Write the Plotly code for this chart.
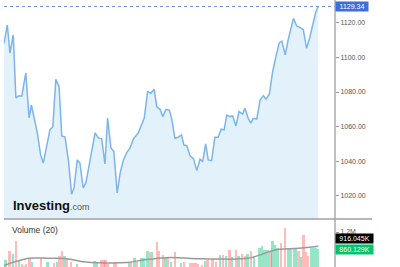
import plotly.graph_objects as go

# ---------------- data ----------------
session = [0, 1.0, 1.8, 2.8, 3.6, 4.3, 5.4, 6.6, 7.6, 8.3,
           10.1, 11.1, 11.9, 12.9, 13.9, 14.8, 15.7, 16.7, 17.5, 18.5,
           19.5, 20.5, 21.2, 22.2, 23.0, 24.0, 24.8, 26.1, 27.6, 28.6,
           29.6, 30.6, 31.4, 32.4, 33.3, 34.3, 35.2, 36.2, 37.2, 38.2,
           39.2, 40.7, 42.5, 43.5, 44.5, 45.5, 46.3, 47.3, 48.1, 49.1,
           50.1, 50.8, 51.8, 52.8, 53.8, 54.5, 55.4, 56.4, 57.4, 58.4,
           59.4, 60.2, 61.1, 61.9, 62.9, 63.9, 64.9, 65.8, 66.7, 67.5,
           68.5, 69.3, 70.3, 71.2, 72.3, 73.0, 74.0, 74.8, 75.5, 76.6,
           77.6, 78.6, 79.4, 80.4, 81.4, 82.4, 83.4, 84.2, 85.2, 86.2,
           87.7, 88.7, 89.7, 90.7, 91.7, 92.7, 93.7, 94.5, 95.2]
price = [1108, 1118.7, 1102.5, 1113, 1076.5, 1077.7, 1077.7, 1091, 1065, 1072.5,
         1056.4, 1043.7, 1039, 1048.5, 1058, 1060, 1087.3, 1083, 1054.6, 1054,
         1040.8, 1021, 1024.6, 1040.8, 1039, 1024.6, 1027.5, 1040.8, 1056.4, 1053.5,
         1053, 1038.5, 1065, 1047.7, 1045.6, 1021.7, 1033.3, 1040.8, 1045, 1047.7,
         1052.9, 1056.4, 1065, 1080.2, 1079.3, 1081.6, 1071.5, 1070, 1065.8, 1070,
         1069.6, 1064.8, 1053.3, 1053.9, 1055.2, 1049.4, 1049, 1043, 1041.7, 1034.6,
         1041.2, 1039.8, 1050, 1040.8, 1040.4, 1053.9, 1053.9, 1058.5, 1058.1, 1066.7,
         1065.8, 1066.2, 1060.4, 1068.7, 1067.3, 1070.6, 1064.8, 1062, 1064.8, 1064.4,
         1075.4, 1077.9, 1075.8, 1078.7, 1091.7, 1100.4, 1108.5, 1109.4, 1101.4, 1111,
         1122.5, 1118.1, 1117.3, 1115.8, 1105.2, 1111.9, 1119.6, 1126.3, 1129.34]

vol_session = [0.5, 1.7, 2.8, 3.7, 4.5, 5.4, 6.0, 6.6, 7.7, 8.4,
               11.3, 13.2, 15.2, 16.0, 16.8, 17.6, 18.3, 19.0, 20.3, 22.1,
               27.4, 28.2, 29.4, 30.1, 30.7, 31.6, 33.4, 34.0, 37.8, 38.5,
               39.5, 40.3, 41.5, 42.3, 43.5, 44.2, 44.8, 46.3, 47.0, 48.1,
               48.9, 49.6, 50.6, 51.8, 53.6, 54.5, 56.5, 57.3, 58.0, 58.7,
               60.0, 60.9, 61.7, 63.2, 64.2, 65.5, 66.3, 67.2, 68.3, 69.0,
               70.3, 71.1, 72.1, 73.0, 73.8, 74.8, 75.7, 77.4, 78.1, 78.9,
               79.9, 80.7, 81.4, 82.1, 82.9, 83.9, 85.2, 86.0, 86.8, 87.8,
               88.5, 89.2, 90.0, 90.8, 91.5, 92.2, 93.0, 93.8, 94.6, 95.2]
volume_k = [640, 820, 753, 1020, 620, 553, 527, 553, 673, 593,
            687, 593, 580, 593, 727, 820, 727, 673, 607, 553,
            620, 593, 640, 640, 640, 560, 593, 593, 607, 593,
            673, 607, 673, 673, 820, 807, 807, 1007, 820, 740,
            687, 707, 607, 807, 573, 593, 573, 573, 573, 553,
            540, 620, 640, 660, 607, 740, 740, 727, 840, 707,
            840, 727, 753, 727, 753, 820, 727, 873, 927, 840,
            840, 807, 1020, 940, 873, 973, 1287, 887, 887, 887,
            887, 820, 707, 1140, 807, 727, 873, 887, 873, 860]
vol_up = ["g", "r", "g", "r", "g", "r", "g", "r", "r", "g",
          "r", "g", "r", "g", "r", "r", "g", "r", "r", "g",
          "g", "g", "r", "r", "r", "r", "r", "r", "g", "r",
          "g", "r", "g", "g", "g", "r", "g", "r", "r", "r",
          "g", "r", "g", "r", "g", "r", "r", "r", "r", "r",
          "r", "g", "r", "r", "r", "g", "r", "g", "r", "g",
          "r", "g", "r", "r", "g", "r", "g", "g", "g", "g",
          "g", "r", "g", "g", "g", "r", "r", "g", "g", "g",
          "g", "r", "g", "r", "r", "r", "g", "g", "g", "g"]

ma_session = [0, 7.4, 13.9, 19.0, 24.0, 29.0, 37.2, 42.2, 49.3, 58.9, 63.9, 74.0, 78.1, 82.1, 89.2, 95.2]
ma_k = [527, 673, 673, 665, 607, 585, 590, 640, 687, 667, 660, 673, 753, 840, 873, 916]

price_ticks = [1020, 1040, 1060, 1080, 1100, 1120]
last_price = 1129.34
last_ma_label = "916.045K"
last_vol_label = "860.129K"

# ---------------- figure ----------------
W, H = 400, 267
FONT = "Liberation Sans, Arial, sans-serif"
x_dom = [4 / W, 335 / W]
x_rng = [0, 100.3]

fig = go.Figure()
fig.add_trace(go.Scatter(
    x=session, y=price, mode="lines",
    line=dict(color="#7cb5ec", width=1.5),
    fill="tozeroy", fillcolor="#e3f1fb",
    xaxis="x", yaxis="y", hoverinfo="skip"))

bar_colors = ["rgba(0,196,120,0.42)" if c == "g" else "rgba(255,90,90,0.42)" for c in vol_up]
fig.add_trace(go.Bar(
    x=vol_session, y=[v * 1000 for v in volume_k],
    marker=dict(color=bar_colors, line=dict(width=0)),
    width=0.72, xaxis="x2", yaxis="y2", hoverinfo="skip"))

fig.add_trace(go.Scatter(
    x=ma_session, y=[v * 1000 for v in ma_k], mode="lines",
    line=dict(color="#9a9a9a", width=1.5, shape="spline"),
    xaxis="x2", yaxis="y2", hoverinfo="skip"))

fig.update_layout(
    width=W, height=H,
    margin=dict(l=0, r=0, t=0, b=0),
    paper_bgcolor="white", plot_bgcolor="white",
    showlegend=False,
    font=dict(family=FONT),
    bargap=0,
    xaxis=dict(domain=x_dom, range=x_rng, visible=False, anchor="y"),
    yaxis=dict(domain=[(H - 219) / H, 1], range=[1006.7, 1133.1], side="right",
               anchor="x", tickvals=price_ticks,
               ticktext=[f"{v:.2f}" for v in price_ticks],
               ticks="outside", ticklen=3, tickcolor="#999",
               tickfont=dict(size=7, color="#555"),
               showgrid=False, zeroline=False, showline=False),
    xaxis2=dict(domain=x_dom, range=x_rng, visible=False, anchor="y2"),
    yaxis2=dict(domain=[0, 42 / H], range=[500000, 1340000], side="right",
                anchor="x2", tickvals=[1200000], ticktext=["1.2M"],
                ticks="outside", ticklen=3, tickcolor="#999",
                tickfont=dict(size=7, color="#555"),
                showgrid=False, zeroline=False, showline=False),
)

# axis lines
fig.add_shape(type="line", xref="paper", yref="paper",
              x0=335 / W, x1=335 / W, y0=0, y1=1,
              line=dict(color="#a0a0a0", width=1.3))
fig.add_shape(type="line", xref="paper", yref="paper",
              x0=4 / W, x1=372 / W, y0=(H - 219) / H, y1=(H - 219) / H,
              line=dict(color="#a0a0a0", width=1.3))
# last price dotted line
fig.add_shape(type="line", xref="paper", yref="y",
              x0=4 / W, x1=335 / W, y0=last_price, y1=last_price,
              line=dict(color="#6f8fe8", width=1, dash="dot"))

# labels
fig.add_annotation(xref="paper", yref="y", x=335 / W, y=last_price,
                   xanchor="left", yanchor="middle", showarrow=False,
                   text=f"{last_price:.2f}", bgcolor="#3d6fdb", width=30,
                   borderpad=1, font=dict(size=7, color="white", family=FONT))
fig.add_annotation(xref="paper", yref="paper", x=335 / W, y=(H - 238.5) / H,
                   xanchor="left", yanchor="middle", showarrow=False,
                   text=last_ma_label, bgcolor="#000000", width=35,
                   borderpad=1, font=dict(size=7, color="white", family=FONT))
fig.add_annotation(xref="paper", yref="paper", x=335 / W, y=(H - 249.3) / H,
                   xanchor="left", yanchor="middle", showarrow=False,
                   text=last_vol_label, bgcolor="#00c46e", width=35,
                   borderpad=1, font=dict(size=7, color="white", family=FONT))
fig.add_annotation(xref="paper", yref="paper", x=10 / W, y=(H - 230) / H,
                   xanchor="left", yanchor="middle", showarrow=False,
                   text="Volume (20)", font=dict(size=8.5, color="#333", family=FONT))
fig.add_annotation(xref="paper", yref="paper", x=11 / W, y=(H - 205) / H,
                   xanchor="left", yanchor="middle", showarrow=False,
                   text="<b>Investing</b><span style='font-size:9px;color:#555'>.com</span>",
                   font=dict(size=13, color="#111", family=FONT))

fig.write_html("out.html")
